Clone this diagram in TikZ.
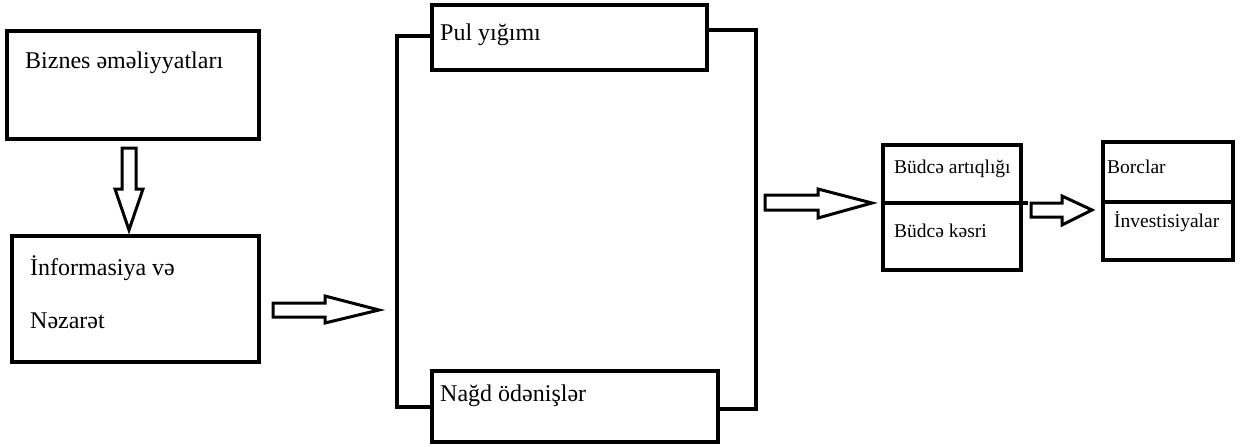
\documentclass[tikz,border=0pt]{standalone}
\usepackage{fontspec}
\setmainfont{Liberation Serif}
\begin{document}
\begin{tikzpicture}[x=1pt,y=-1pt,
  box/.style={draw,line width=3.4pt,inner sep=0pt,outer sep=0pt,rectangle},
  conn/.style={draw,line width=3.4pt},
  blockarrow/.style={draw,line width=3pt,fill=white,line join=miter},
  bigtxt/.style={anchor=base west,inner sep=0pt,font=\fontsize{24}{28}\selectfont},
  smalltxt/.style={anchor=base west,inner sep=0pt,font=\fontsize{19.5}{23}\selectfont}]
\useasboundingbox (0,0) rectangle (1248,447);
\fill[white] (0,0) rectangle (1248,447);
% boxes
\node[box,minimum width=252pt,minimum height=108pt] (biz) at (133,85) {};
\node[box,minimum width=247pt,minimum height=126pt] (inf) at (135.5,299) {};
\node[box,minimum width=275pt,minimum height=65pt] (pul) at (569.5,37.5) {};
\node[box,minimum width=286pt,minimum height=71pt] (nagd) at (575,406.5) {};
\node[box,minimum width=138pt,minimum height=125pt] (bud) at (952,207.5) {};
\node[box,minimum width=130pt,minimum height=118pt] (bor) at (1168,201) {};
% dividers
\draw[conn] ([yshift=4.5pt]bud.west) -- ([yshift=4.5pt,xshift=7pt]bud.east);
\draw[conn] ([yshift=-1pt]bor.west) -- ([yshift=-1pt]bor.east);
% texts
\node[bigtxt] (t1) at (25,68) {Biznes əməliyyatları};
\node[bigtxt] (t2) at (30,275) {İnformasiya və};
\node[bigtxt] (t3) at (30,328) {Nəzarət};
\node[bigtxt] (t4) at (440,40) {Pul yığımı};
\node[bigtxt] (t5) at (440,401) {Nağd ödənişlər};
\node[smalltxt] (t6) at (894,173) {Büdcə artıqlığı};
\node[smalltxt] (t7) at (894,237) {Büdcə kəsri};
\node[smalltxt] (t8) at (1107,173) {Borclar};
\node[smalltxt] (t9) at (1114,227) {İnvestisiyalar};
% bracket connectors
\coordinate (lx) at (397,200);
\coordinate (rx) at (756,200);
\draw[conn] ([yshift=1.5pt]pul.west) -| (lx) |- ([yshift=-0.5pt]nagd.west);
\draw[conn] ([yshift=7.5pt]pul.east) -| (rx) |- ([yshift=-2.5pt]nagd.east);
% block arrows
\draw[blockarrow] (122,148) -- (136,148) -- (136,189) -- (143,189) -- (129,230) -- (115,189) -- (122,189) -- cycle;
\draw[blockarrow] (273,303) -- (325,303) -- (325,296) -- (379,310) -- (325,323) -- (325,317) -- (273,317) -- cycle;
\draw[blockarrow] (765,195) -- (818,195) -- (818,189) -- (872,203) -- (818,218) -- (818,210) -- (765,210) -- cycle;
\draw[blockarrow] (1031,203) -- (1062,203) -- (1062,196) -- (1092,210) -- (1062,225) -- (1062,217) -- (1031,217) -- cycle;
\end{tikzpicture}
\end{document}
